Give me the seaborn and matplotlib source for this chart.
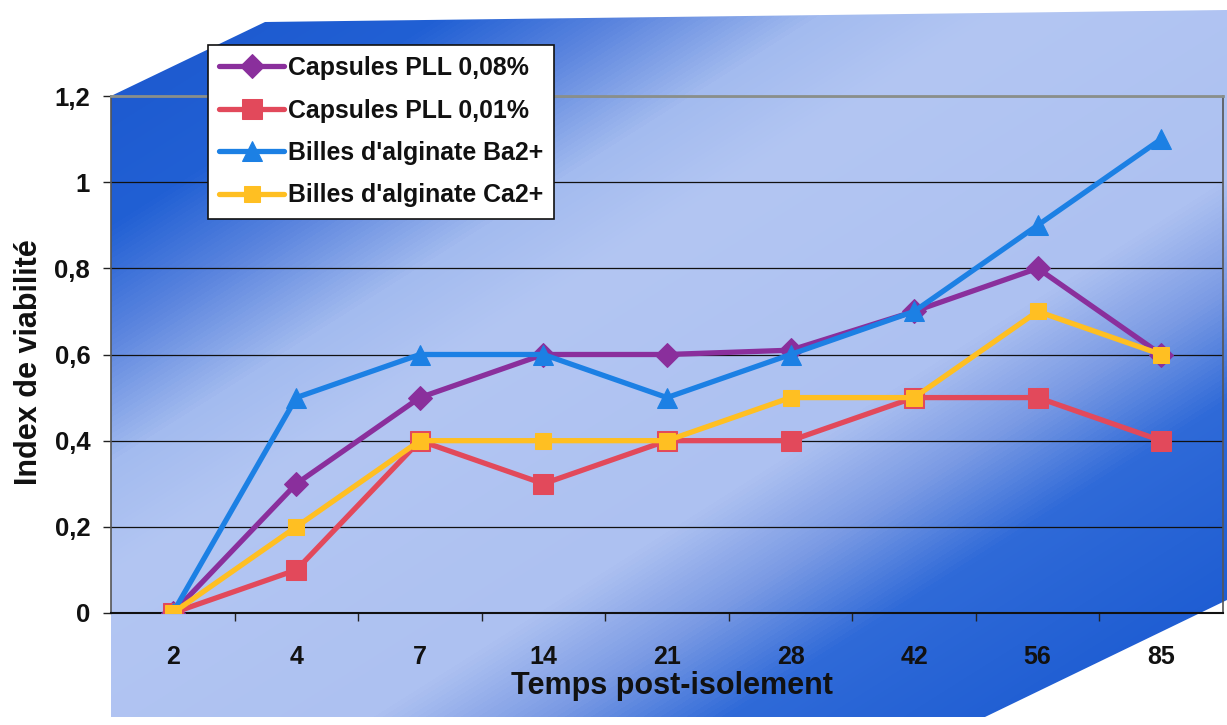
import numpy as np
import pandas as pd
import matplotlib
matplotlib.use("Agg")
import matplotlib.pyplot as plt
from matplotlib.colors import LinearSegmentedColormap
from matplotlib.patches import Polygon
import seaborn as sns

# ---- data ----
categories = ["2", "4", "7", "14", "21", "28", "42", "56", "85"]
pll_008 = [0.0, 0.30, 0.50, 0.60, 0.60, 0.61, 0.70, 0.80, 0.60]
pll_001 = [0.0, 0.10, 0.40, 0.30, 0.40, 0.40, 0.50, 0.50, 0.40]
ba_beads = [0.0, 0.50, 0.60, 0.60, 0.50, 0.60, 0.70, 0.90, 1.10]
ca_beads = [0.0, 0.20, 0.40, 0.40, 0.40, 0.50, 0.50, 0.70, 0.60]
series_names = ["Capsules PLL 0,08%", "Capsules PLL 0,01%",
                "Billes d'alginate Ba2+", "Billes d'alginate Ca2+"]
y_ticks = [0, 0.2, 0.4, 0.6, 0.8, 1.0, 1.2]
y_tick_labels = ["0", "0,2", "0,4", "0,6", "0,8", "1", "1,2"]

rows = []
for name, vals in zip(series_names, [pll_008, pll_001, ba_beads, ca_beads]):
    for c, v in zip(categories, vals):
        rows.append({"Temps": c, "Index": v, "Série": name})
df = pd.DataFrame(rows)

sns.set_theme(style="white")
plt.rcParams["font.family"] = ["Liberation Sans", "DejaVu Sans"]
plt.rcParams["font.weight"] = "bold"

W, H = 1227, 725
fig = plt.figure(figsize=(W / 100, H / 100), dpi=100)
fig.patch.set_facecolor("white")

# ---- gradient background (3D-like wall) ----
bg = fig.add_axes([0, 0, 1, 1], zorder=0)
bg.set_xlim(0, W)
bg.set_ylim(H, 0)
bg.axis("off")
yy, xx = np.mgrid[0:H, 0:W]
t = (yy + 0.63 * xx) / 1400.0
stops = [(0.00, "#1a54cb"), (0.21, "#2160d4"), (0.29, "#5a84de"),
         (0.38, "#a3bbef"), (0.46, "#b3c6f3"), (0.68, "#adc1f1"),
         (0.76, "#7a9ae4"), (0.84, "#2f6ad8"), (1.00, "#1d5cd2")]
cmap = LinearSegmentedColormap.from_list("wall", stops)
im = bg.imshow(np.clip(t, 0, 1), cmap=cmap, vmin=0, vmax=1,
               extent=(0, W, H, 0), aspect="auto", interpolation="bilinear")
poly = Polygon([(111, 96), (265, 22), (1227, 10), (1227, 600),
                (985, 717), (111, 717)], closed=True, transform=bg.transData,
               facecolor="none", edgecolor="none")
bg.add_patch(poly)
im.set_clip_path(poly)

# ---- main axes ----
ax = fig.add_axes([111 / W, (H - 613) / H, (1223 - 111) / W, (613 - 96) / H], zorder=2)
ax.set_facecolor("none")

palette = {series_names[0]: "#8a2f9c", series_names[1]: "#e2495b",
           series_names[2]: "#1c80e4", series_names[3]: "#ffbf22"}
markers = {series_names[0]: "D", series_names[1]: "s",
           series_names[2]: "^", series_names[3]: "s"}
sizes = {series_names[0]: 12, series_names[1]: 14,
         series_names[2]: 15, series_names[3]: 11.5}

for name in series_names:
    sub = df[df["Série"] == name]
    sns.lineplot(data=sub, x="Temps", y="Index", ax=ax, color=palette[name],
                 marker=markers[name], markersize=sizes[name],
                 markeredgecolor=palette[name], linewidth=3.8, label=name,
                 sort=False, zorder=3)

ax.set_xlim(-0.5, len(categories) - 0.5)
ax.set_ylim(0, 1.2)
ax.set_yticks(y_ticks)
ax.set_yticklabels(y_tick_labels, fontsize=18.5, fontweight="bold")
ax.set_xticks(range(len(categories)))
ax.set_xticklabels(categories, fontsize=18, fontweight="bold")
ax.set_xticks([k + 0.5 for k in range(len(categories) - 1)], minor=True)
ax.tick_params(axis="x", which="major", length=0, pad=23, colors="#111111")
ax.tick_params(axis="x", which="minor", length=6, width=1, color="#222222",
               direction="out", bottom=True)
ax.tick_params(axis="y", which="major", length=6, width=1, color="#222222",
               direction="out", left=True, pad=9, labelcolor="#111111")
ax.set_xlabel("")
ax.set_ylabel("")

ax.yaxis.grid(True, color="#111111", linewidth=0.9)
ax.set_axisbelow(True)
for s in ["left", "right"]:
    ax.spines[s].set_color("#555555")
    ax.spines[s].set_linewidth(1.2)
ax.spines["top"].set_color("#8a8f8a")
ax.spines["top"].set_linewidth(2)
ax.spines["bottom"].set_color("#111111")
ax.spines["bottom"].set_linewidth(1.5)

fig.text(29 / W, 1 - 362 / H, "Index de viabilité", rotation=90,
         ha="center", va="center", fontsize=22, fontweight="bold", color="#111111")
fig.text(672 / W, 1 - 686 / H, "Temps post-isolement",
         ha="center", va="center", fontsize=22, fontweight="bold", color="#111111")

leg = ax.legend(loc="upper left", bbox_to_anchor=(208 / W, 1 - 45 / H),
                bbox_transform=fig.transFigure, frameon=True, fancybox=False,
                fontsize=17.9, handlelength=2.6, labelspacing=0.74,
                borderpad=0.45, handletextpad=0.15, borderaxespad=0)
leg.get_frame().set_edgecolor("#111111")
leg.get_frame().set_linewidth(1.2)
leg.get_frame().set_facecolor("white")
leg.get_frame().set_alpha(1)
for txt in leg.get_texts():
    txt.set_fontweight("bold")
    txt.set_color("#111111")
leg.set_zorder(5)

fig.savefig("out.png", dpi=100, facecolor="white")
